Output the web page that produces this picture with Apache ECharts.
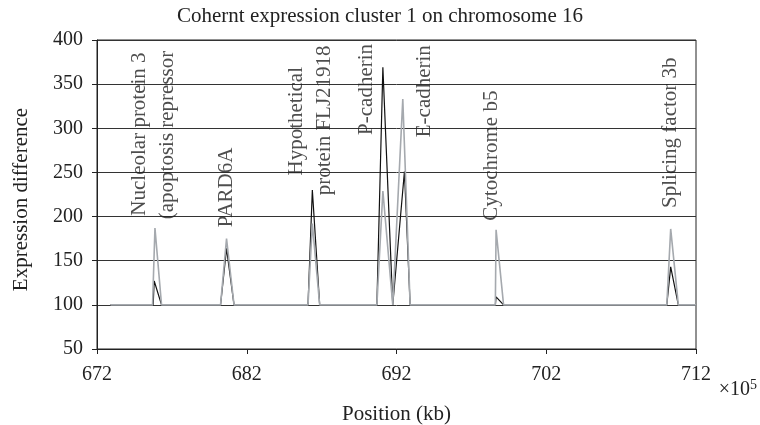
<!DOCTYPE html>
<html style='height: 100%'>
<head>
    <meta charset='utf-8'>
</head>
<body style='height: 100%; margin: 0; background: #fff'>
    <div id='container' style='width: 760px; height: 425px'></div>
    <script type='text/javascript' src='https://cdn.jsdelivr.net/npm/echarts@6/dist/echarts.min.js'></script>
    <script type="text/javascript">

// positions (x10^5 kb) and values of the two traces
var blackX = [672.9, 675.75, 675.82, 676.31, 680.25, 680.65, 681.15, 686.09, 686.38, 686.87,
              690.69, 691.09, 691.75, 691.87, 692.53, 692.91, 698.6, 698.65, 699.15,
              710.05, 710.31, 710.82, 712];
var blackY = [100, 100, 127, 100, 100, 164, 100, 100, 230, 100,
              100, 369, 100, 100, 251, 100, 100, 109, 100,
              100, 143, 100, 100];
var grayX = [672.9, 675.71, 675.87, 676.31, 680.25, 680.65, 681.15, 686.09, 686.38, 686.87,
             690.69, 691.09, 691.75, 692.42, 692.91, 698.6, 698.65, 699.15,
             710.05, 710.31, 710.82, 712];
var grayY = [100, 100, 187, 100, 100, 175, 100, 100, 192, 100,
             100, 229, 100, 333, 100, 100, 185, 100,
             100, 186, 100, 100];

// gene labels (text, x, y centre)
var geneText = ['Nucleolar protein 3', '(apoptosis repressor', 'PARD6A', 'Hypothetical',
                'protein FLJ21918', 'P-cadherin', 'E-cadherin', 'Cytochrome b5', 'Splicing factor 3b'];
var geneX = [674.87, 676.73, 680.65, 685.31, 687.2, 689.98, 693.87, 698.31, 710.31];
var geneY = [293.5, 292.4, 233, 308, 309, 344, 342, 269, 295];

var xTicks = [672, 682, 692, 702, 712];

var dom = document.getElementById("container");
var myChart = echarts.init(dom);
var font = 'Liberation Serif';

function pairs(xs, ys) {
    var out = [];
    for (var i = 0; i < xs.length; i++) out.push([xs[i], ys[i]]);
    return out;
}

var labelData = [];
for (var i = 0; i < geneText.length; i++) {
    labelData.push({ value: [geneX[i], geneY[i]], name: geneText[i] });
}

option = {
    animation: false,
    backgroundColor: '#fff',
    textStyle: { fontFamily: font },
    title: {
        text: 'Cohernt expression cluster 1 on chromosome 16',
        left: 'center',
        top: 2,
        padding: [4, 0, 4, 30],
        textStyle: { fontFamily: font, fontSize: 21, fontWeight: 'normal', color: '#222' }
    },
    grid: {
        left: 97, right: 64, top: 40, bottom: 76,
        outerBoundsMode: 'none',
        show: true, borderColor: '#222', borderWidth: 1
    },
    xAxis: {
        type: 'value',
        min: 672, max: 712, interval: 10,
        name: 'Position (kb)',
        nameLocation: 'middle',
        nameGap: 55,
        nameTextStyle: { fontFamily: font, fontSize: 21, color: '#222' },
        axisLine: { lineStyle: { color: '#222', width: 1 } },
        axisTick: { length: 5, lineStyle: { color: '#222' } },
        axisLabel: {
            fontFamily: font, fontSize: 20, color: '#222', margin: 16,
            formatter: function (v) { return xTicks.indexOf(v) >= 0 ? String(v) : ''; }
        },
        splitLine: { show: false }
    },
    yAxis: {
        type: 'value',
        min: 50, max: 400, interval: 50,
        name: 'Expression difference',
        nameLocation: 'middle',
        nameGap: 65,
        nameTextStyle: { fontFamily: font, fontSize: 21, color: '#222', padding: [0, 10, 0, 0] },
        axisLine: { show: true, lineStyle: { color: '#222', width: 1 } },
        axisTick: { show: true, length: 5, lineStyle: { color: '#222' } },
        axisLabel: { fontFamily: font, fontSize: 20, color: '#222', margin: 14 },
        splitLine: { show: true, lineStyle: { color: '#333', width: 1 } }
    },
    graphic: [{
        type: 'text',
        right: 3, top: 378,
        style: {
            text: '×10{s|5}',
            rich: { s: { fontSize: 14, verticalAlign: 'top', padding: [0, 0, 10, 0], fontFamily: font, fill: '#222' } },
            font: '20px "Liberation Serif"',
            fill: '#222'
        }
    }],
    series: [
        {
            type: 'line',
            data: pairs(blackX, blackY),
            symbol: 'none',
            lineStyle: { color: '#111', width: 1.2 },
            z: 2
        },
        {
            type: 'line',
            data: pairs(grayX, grayY),
            symbol: 'none',
            lineStyle: { color: '#a5a9ae', width: 1.6 },
            z: 3
        },
        {
            type: 'scatter',
            data: labelData,
            symbolSize: 0,
            z: 5,
            label: {
                show: true,
                position: 'inside',
                rotate: 90,
                formatter: '{b}',
                fontFamily: font,
                fontSize: 21,
                color: '#222'
            }
        }
    ]
};

if (option && typeof option === "object") {
    myChart.setOption(option, true);
}
    </script>
</body>
</html>
